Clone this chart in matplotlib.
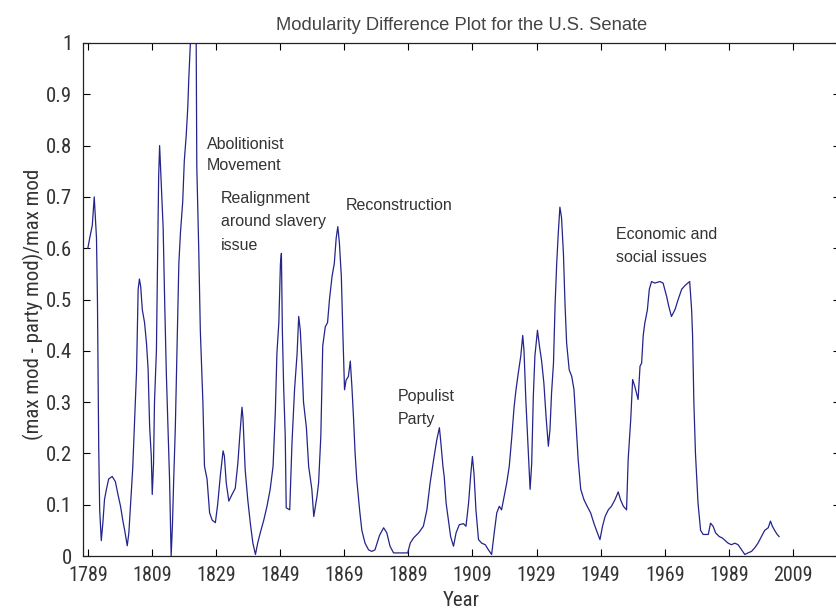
import matplotlib
matplotlib.use("Agg")
import matplotlib.pyplot as plt
from matplotlib import font_manager

# ---- data ----
years = [1789, 1789.6, 1790.4, 1791, 1791.7, 1792, 1792.4, 1792.7, 1793.2, 1793.7,
         1794.2, 1794.8, 1795.5, 1796.6, 1797.6, 1798.4, 1799.2, 1799.9, 1800.5, 1801.3,
         1801.8, 1802.3, 1803, 1803.7, 1804.2, 1804.7, 1805.1, 1805.5, 1806, 1806.7,
         1807.3, 1807.8, 1808.3, 1808.8, 1809.1, 1809.5, 1809.8, 1810.4, 1810.8, 1811.1,
         1811.4, 1812, 1812.5, 1813, 1813.5, 1814, 1814.5, 1815, 1815.4, 1815.8,
         1816.3, 1816.9, 1817.4, 1817.9, 1818.6, 1819.1, 1819.7, 1820.2, 1820.5, 1821,
         1821.5, 1822.2, 1822.8, 1823, 1823.6, 1824.1, 1824.9, 1825.4, 1826.2, 1827,
         1827.8, 1828.8, 1829.5, 1830.4, 1831.2, 1831.6, 1832.2, 1833, 1834, 1835,
         1835.8, 1836.4, 1837.1, 1837.4, 1838.1, 1838.9, 1839.7, 1840.5, 1841.3, 1842,
         1842.8, 1843.9, 1844.9, 1845.9, 1846.8, 1847.5, 1848, 1848.6, 1849.1, 1849.4,
         1849.7, 1850.1, 1850.6, 1850.9, 1852, 1852.7, 1853.5, 1854.3, 1854.8, 1855.3,
         1855.8, 1856.3, 1857.2, 1857.9, 1858.9, 1859.5, 1860.5, 1861, 1861.7, 1862.3,
         1863.1, 1863.8, 1864.4, 1865.2, 1865.9, 1866.5, 1867, 1867.5, 1868.1, 1868.6,
         1869.1, 1869.6, 1870.3, 1870.9, 1871.4, 1871.9, 1872.4, 1872.9, 1873.8, 1874.5,
         1875.5, 1876.6, 1877.6, 1878.6, 1880, 1881.3, 1882.3, 1883.3, 1884.4, 1885.9,
         1887.5, 1888.8, 1889.6, 1890.6, 1892.2, 1893.7, 1894.8, 1895.8, 1896.9, 1897.9,
         1898.7, 1899.1, 1899.8, 1900.2, 1900.8, 1901.5, 1902.2, 1903.1, 1903.9, 1904.9,
         1906.2, 1907, 1907.8, 1908.5, 1909, 1909.5, 1910.1, 1910.9, 1911.9, 1913,
         1914, 1915, 1915.8, 1916.6, 1917.4, 1918.1, 1918.9, 1919.7, 1920.5, 1921.3,
         1922, 1922.6, 1923.3, 1924.1, 1924.7, 1925.1, 1925.7, 1926.5, 1927, 1927.5,
         1928, 1928.5, 1929.3, 1929.9, 1930.6, 1931.3, 1932, 1932.7, 1933.2, 1933.7,
         1934.3, 1934.8, 1935.3, 1935.8, 1936.3, 1936.8, 1937.4, 1937.9, 1938.4, 1939.2,
         1940, 1940.7, 1941.3, 1942, 1942.8, 1943.8, 1944.8, 1945.9, 1946.9, 1948,
         1948.8, 1949.6, 1950.4, 1951.4, 1952.4, 1953.5, 1954.5, 1955.2, 1956.1, 1957.1,
         1957.6, 1958.4, 1959, 1959.7, 1960.7, 1961.3, 1961.8, 1962.3, 1962.8, 1963.6,
         1964.2, 1964.9, 1965.9, 1967.5, 1968.5, 1969.6, 1970.3, 1971.1, 1972.2, 1973.2,
         1974.3, 1975.3, 1976.2, 1976.8, 1977.4, 1977.7, 1978.1, 1978.6, 1979.4, 1980.2,
         1981, 1981.8, 1982.6, 1983.3, 1984.1, 1984.9, 1986, 1987, 1988.1, 1988.8,
         1989.8, 1990.9, 1991.9, 1993, 1994, 1995, 1996.1, 1997.1, 1998.1, 1999.2,
         2000.2, 2001.3, 2002, 2002.6, 2003.3, 2004.1, 2004.7]

mod_diff = [0.60, 0.62, 0.645, 0.70, 0.62, 0.50, 0.21, 0.09, 0.03, 0.065,
            0.11, 0.13, 0.15, 0.155, 0.145, 0.12, 0.097, 0.07, 0.05, 0.02,
            0.045, 0.097, 0.17, 0.28, 0.36, 0.52, 0.54, 0.525, 0.48, 0.455,
            0.415, 0.365, 0.25, 0.195, 0.12, 0.18, 0.30, 0.40, 0.59, 0.74,
            0.80, 0.71, 0.64, 0.49, 0.355, 0.25, 0.15, 0.0, 0.06, 0.15,
            0.25, 0.43, 0.57, 0.63, 0.69, 0.77, 0.82, 0.876, 0.93, 1.0,
            1.08, 1.12, 1.02, 0.76, 0.60, 0.44, 0.30, 0.175, 0.15, 0.084,
            0.07, 0.065, 0.10, 0.16, 0.205, 0.195, 0.142, 0.107, 0.12, 0.132,
            0.18, 0.233, 0.29, 0.27, 0.168, 0.11, 0.064, 0.025, 0.003, 0.025,
            0.045, 0.07, 0.097, 0.13, 0.175, 0.28, 0.395, 0.455, 0.57, 0.59,
            0.44, 0.33, 0.233, 0.094, 0.09, 0.22, 0.324, 0.395, 0.467, 0.44,
            0.376, 0.30, 0.25, 0.175, 0.13, 0.077, 0.116, 0.142, 0.233, 0.41,
            0.447, 0.455, 0.50, 0.545, 0.57, 0.62, 0.642, 0.61, 0.545, 0.43,
            0.324, 0.343, 0.35, 0.38, 0.33, 0.27, 0.20, 0.15, 0.09, 0.05,
            0.025, 0.012, 0.009, 0.012, 0.04, 0.055, 0.045, 0.019, 0.006, 0.006,
            0.006, 0.006, 0.025, 0.035, 0.045, 0.058, 0.09, 0.142, 0.188, 0.227,
            0.25, 0.225, 0.175, 0.155, 0.103, 0.07, 0.038, 0.019, 0.045, 0.061,
            0.063, 0.058, 0.103, 0.16, 0.194, 0.16, 0.09, 0.032, 0.025, 0.022,
            0.012, 0.003, 0.045, 0.084, 0.097, 0.09, 0.116, 0.142, 0.175, 0.233,
            0.29, 0.324, 0.356, 0.39, 0.43, 0.40, 0.30, 0.194, 0.13, 0.18,
            0.31, 0.39, 0.44, 0.41, 0.38, 0.337, 0.27, 0.214, 0.246, 0.318,
            0.376, 0.49, 0.57, 0.63, 0.68, 0.66, 0.59, 0.49, 0.415, 0.363,
            0.35, 0.324, 0.26, 0.188, 0.13, 0.11, 0.097, 0.084, 0.064, 0.045,
            0.032, 0.058, 0.077, 0.09, 0.097, 0.11, 0.125, 0.11, 0.097, 0.09,
            0.188, 0.266, 0.344, 0.33, 0.305, 0.37, 0.376, 0.43, 0.454, 0.48,
            0.52, 0.535, 0.532, 0.535, 0.532, 0.506, 0.486, 0.467, 0.48, 0.50,
            0.52, 0.527, 0.532, 0.535, 0.48, 0.43, 0.30, 0.20, 0.103, 0.05,
            0.042, 0.042, 0.042, 0.064, 0.058, 0.045, 0.038, 0.035, 0.029, 0.025,
            0.022, 0.025, 0.022, 0.012, 0.003, 0.006, 0.009, 0.016, 0.025, 0.038,
            0.05, 0.055, 0.068, 0.058, 0.05, 0.042, 0.038]

tick_years = [1789, 1809, 1829, 1849, 1869, 1889, 1909, 1929, 1949, 1969, 1989, 2009]
y_ticks = [0, 0.1, 0.2, 0.3, 0.4, 0.5, 0.6, 0.7, 0.8, 0.9, 1]
y_tick_labels = ["0", "0.1", "0.2", "0.3", "0.4", "0.5", "0.6", "0.7", "0.8", "0.9", "1"]

annotation_texts = ["Abolitionist\nMovement", "Realignment\naround slavery\nissue",
                    "Reconstruction", "Populist\nParty", "Economic and\nsocial issues"]
annotation_x = [1826.2, 1830.6, 1869.6, 1885.6, 1953.8]
annotation_y = [0.817, 0.7115, 0.698, 0.3255, 0.6413]
annotation_spacing = [1.5, 1.7, 1.7, 1.7, 1.7]

title = "Modularity Difference Plot for the U.S. Senate"
xlabel = "Year"
ylabel = "(max mod - party mod)/max mod"


def pick(names):
    for n in names:
        try:
            font_manager.findfont(font_manager.FontProperties(family=n),
                                  fallback_to_default=False)
            return n
        except Exception:
            pass
    return "DejaVu Sans"


narrow = pick(["Liberation Sans Narrow", "Arial Narrow", "Roboto Condensed", "Liberation Sans"])
sans = pick(["Liberation Sans", "Arial", "DejaVu Sans"])

fig = plt.figure(figsize=(8.37, 6.10), dpi=100)
W, H = 837.0, 610.0
left_px, right_px, top_px, bot_px = 82.7, 840.0, 43.0, 556.0
ax = fig.add_axes([left_px / W, 1 - bot_px / H, (right_px - left_px) / W, (bot_px - top_px) / H])

ax.plot(years, mod_diff, color="#24248a", linewidth=0.9)

ax.set_xlim(1787.4, 2023.7)
ax.set_ylim(0, 1)
ax.set_xticks(tick_years)
ax.set_xticklabels([str(t) for t in tick_years], fontfamily=narrow, fontsize=14.5, color="#333333")
ax.set_yticks(y_ticks)
ax.set_yticklabels(y_tick_labels, fontfamily=narrow, fontsize=15, color="#333333")
ax.tick_params(direction="in", length=5, width=0.8, top=True, right=True)
ax.tick_params(axis="x", pad=7.5)
ax.tick_params(axis="y", pad=7.5)
for s in ax.spines.values():
    s.set_linewidth(0.9)
    s.set_color("#222222")

ax.set_title(title, fontfamily=sans, fontsize=13.2, color="#444444", pad=9)
ax.set_xlabel(xlabel, fontfamily=narrow, fontsize=15, color="#333333", labelpad=4)
ax.set_ylabel(ylabel, fontfamily=narrow, fontsize=15, color="#333333", labelpad=1.5)
ax.yaxis.set_label_coords(-0.051, 0.49)

for txt, x, y, ls in zip(annotation_texts, annotation_x, annotation_y, annotation_spacing):
    ax.text(x, y, txt, fontfamily=sans, fontsize=11.5, color="#333333",
            ha="left", va="top", linespacing=ls)

fig.savefig("out.png", dpi=100)
